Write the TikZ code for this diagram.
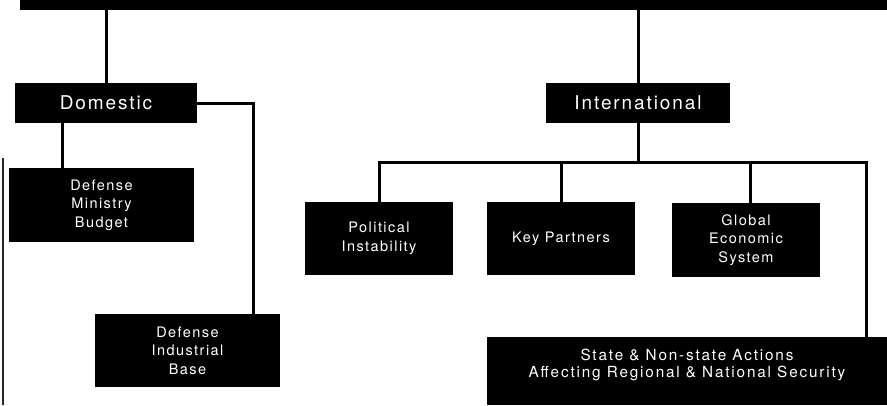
\documentclass[tikz,border=0pt]{standalone}
\usepackage{fontspec}
\setmainfont{TeX Gyre Heros}[LetterSpace=10]
\newfontfamily\wideheros{TeX Gyre Heros}[LetterSpace=12]
\usetikzlibrary{calc}
\begin{document}
\begin{tikzpicture}[x=1pt,y=-1pt,
  blk/.style={fill=black,draw=none,inner sep=0pt,text=white,align=center,
    font=\fontsize{14.5}{18.5}\selectfont},
  big/.style={blk,font=\fontsize{19}{22}\selectfont},
  widetext/.style={blk,fill=none,font=\wideheros\fontsize{15.3}{16.5}\selectfont},
  conn/.style={draw=black,line width=3pt},
  edgeline/.style={draw=black!85,line width=2pt}]
\useasboundingbox (0,0) rectangle (887,405);
% boxes
\node[blk,minimum width=867pt,minimum height=10pt] (top) at (453.5,5) {};
\node[big,minimum width=182pt,minimum height=40pt] (dom) at (106,103) {Domestic};
\node[big,minimum width=184pt,minimum height=40pt] (intl) at (638,103) {International};
\node[blk,minimum width=185pt,minimum height=74pt] (dmb) at (101.5,205) {Defense\\Ministry\\Budget};
\node[blk,minimum width=185pt,minimum height=73pt] (dib) at (187.5,350.5) {Defense\\Industrial\\Base};
\node[blk,minimum width=148pt,minimum height=73pt] (pol) at (379,238.5) {Political\\Instability};
\node[blk,minimum width=148pt,minimum height=73pt] (key) at (561,238.5) {Key Partners};
\node[blk,minimum width=148pt,minimum height=74pt] (glob) at (746,240) {Global\\Economic\\System};
\node[blk,minimum width=400pt,minimum height=68pt] (state) at (687,371) {};
\node[widetext] (statetxt) at (687,365) {State \& Non-state Actions\\Affecting Regional \& National Security};
% connectors
\coordinate (dmbIn) at ([xshift=-39.5pt]dmb.north);
\coordinate (dibIn) at ([xshift=65.5pt]dib.north);
\coordinate (globIn) at ([xshift=4pt]glob.north);
\coordinate (busR) at (866,162);
\coordinate (edgeTop) at (3,158);
\coordinate (edgeBot) at (3,405);
\draw[conn] (dom.north) -- (dom.north |- top.south);
\draw[conn] (intl.north) -- (intl.north |- top.south);
\draw[conn] (dmbIn) -- (dmbIn |- dom.south);
\draw[conn] (dom.east) -| (dibIn);
\draw[conn] (intl.south) -- (intl.south |- busR);
\draw[conn] (pol.north) |- (busR) -- (busR |- state.north);
\draw[conn] (key.north) -- (key.north |- busR);
\draw[conn] (globIn) -- (globIn |- busR);
\draw[edgeline] (edgeTop) -- (edgeBot);
\end{tikzpicture}
\end{document}
